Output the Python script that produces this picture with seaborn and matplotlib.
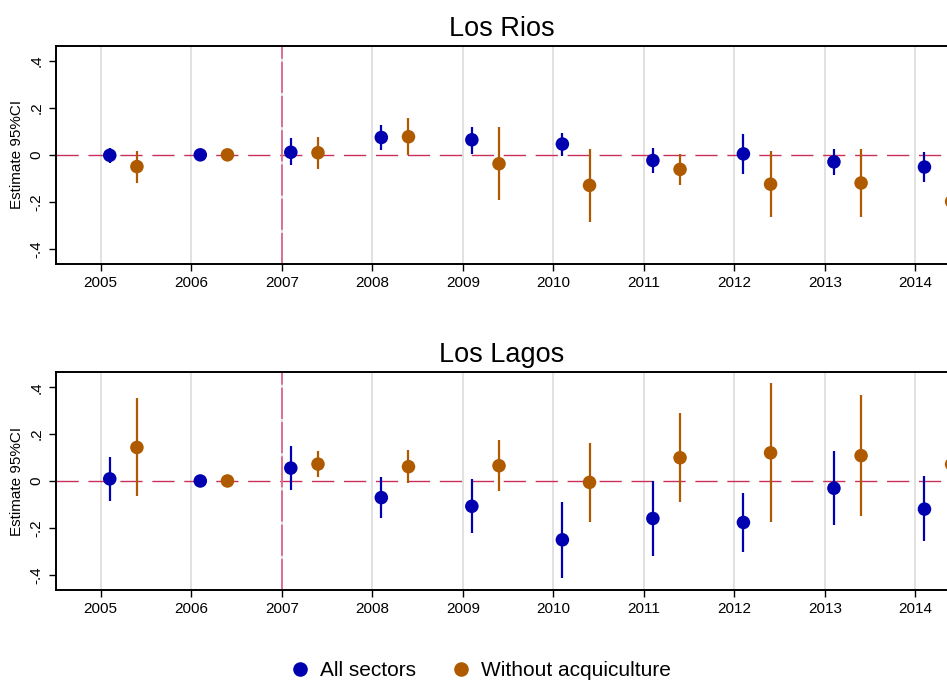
import numpy as np
import pandas as pd
import matplotlib
matplotlib.use("Agg")
import matplotlib.pyplot as plt
from matplotlib.lines import Line2D
import seaborn as sns

# Event-study estimates with 95% confidence intervals (base year 2006)
years = [2005, 2006, 2007, 2008, 2009, 2010, 2011, 2012, 2013, 2014]
series_names = ["All sectors", "Without acquiculture"]
regions = ["Los Rios", "Los Lagos"]

rios_all_est = [-0.002, 0.0, 0.011, 0.074, 0.064, 0.046, -0.024, 0.004, -0.030, -0.052]
rios_all_lo = [-0.035, np.nan, -0.045, 0.020, 0.004, -0.004, -0.078, -0.080, -0.084, -0.115]
rios_all_hi = [0.028, np.nan, 0.070, 0.125, 0.120, 0.095, 0.031, 0.088, 0.024, 0.010]

rios_noaq_est = [-0.050, 0.0, 0.009, 0.077, -0.038, -0.130, -0.062, -0.125, -0.120, -0.199]
rios_noaq_lo = [-0.118, np.nan, -0.060, -0.001, -0.194, -0.288, -0.128, -0.265, -0.265, -0.340]
rios_noaq_hi = [0.018, np.nan, 0.078, 0.155, 0.118, 0.026, 0.004, 0.016, 0.023, -0.060]

lagos_all_est = [0.009, 0.0, 0.055, -0.071, -0.108, -0.251, -0.160, -0.177, -0.031, -0.120]
lagos_all_lo = [-0.086, np.nan, -0.040, -0.160, -0.224, -0.414, -0.320, -0.305, -0.187, -0.258]
lagos_all_hi = [0.102, np.nan, 0.149, 0.017, 0.007, -0.089, 0.000, -0.051, 0.126, 0.020]

lagos_noaq_est = [0.143, 0.0, 0.072, 0.061, 0.065, -0.006, 0.099, 0.120, 0.108, 0.071]
lagos_noaq_lo = [-0.064, np.nan, 0.017, -0.007, -0.041, -0.174, -0.089, -0.174, -0.150, -0.080]
lagos_noaq_hi = [0.352, np.nan, 0.128, 0.132, 0.174, 0.160, 0.289, 0.417, 0.365, 0.220]

yticks = [-0.4, -0.2, 0.0, 0.2, 0.4]
ytick_labels = ["-.4", "-.2", "0", ".2", ".4"]
treat_year = 2007

# Styling
colors = {"All sectors": "#0000B0", "Without acquiculture": "#B05A00"}
offsets = {"All sectors": 0.1, "Without acquiculture": 0.4}

rows = []
blocks = {
    ("Los Rios", "All sectors"): (rios_all_est, rios_all_lo, rios_all_hi),
    ("Los Rios", "Without acquiculture"): (rios_noaq_est, rios_noaq_lo, rios_noaq_hi),
    ("Los Lagos", "All sectors"): (lagos_all_est, lagos_all_lo, lagos_all_hi),
    ("Los Lagos", "Without acquiculture"): (lagos_noaq_est, lagos_noaq_lo, lagos_noaq_hi),
}
for (reg, ser), (est, lo, hi) in blocks.items():
    for y, e, l, h in zip(years, est, lo, hi):
        rows.append({"region": reg, "series": ser, "year": y,
                     "xpos": y + offsets[ser], "est": e, "lo": l, "hi": h})
df = pd.DataFrame(rows)

sns.set_style("white")
plt.rcParams["font.family"] = ["Liberation Sans", "DejaVu Sans"]
plt.rcParams.update({"text.color": "black", "axes.labelcolor": "black",
                     "xtick.color": "black", "ytick.color": "black"})

fig = plt.figure(figsize=(9.47, 6.83), dpi=100)
ax_top = fig.add_axes([56 / 947, 0.6135, 892 / 947, 0.3196])
ax_bot = fig.add_axes([56 / 947, 0.1362, 892 / 947, 0.3192])

for ax, reg in zip([ax_top, ax_bot], regions):
    sub = df[df["region"] == reg]
    ax.set_xlim(2004.506, 2014.36)
    ax.set_ylim(-0.465, 0.465)

    for yr in years:
        ax.axvline(yr, color="#DCDCDC", lw=1.2, zorder=0)
    ax.axhline(0, color="#C8305A", lw=1.0, dashes=(16, 7), zorder=1)
    ax.axvline(treat_year, color="#D9708F", lw=1.4, dashes=(16, 1.6), zorder=1)

    for ser in series_names:
        s = sub[(sub["series"] == ser) & sub["lo"].notna()]
        ax.vlines(s["xpos"], s["lo"], s["hi"], color=colors[ser], lw=1.6, zorder=2)

    sns.scatterplot(data=sub, x="xpos", y="est", hue="series", palette=colors,
                    hue_order=series_names, s=95, edgecolor="none", legend=False,
                    ax=ax, zorder=3)

    ax.set_xticks(years)
    ax.set_xticklabels([str(y) for y in years], fontsize=11)
    ax.set_yticks(yticks)
    ax.set_yticklabels(ytick_labels, fontsize=11, rotation=90, va="center")
    ax.tick_params(axis="both", direction="out", length=5, width=1.0, color="black",
                   bottom=True, left=True, pad=4)
    ax.set_xlabel("")
    ax.set_ylabel("Estimate 95%CI", fontsize=11, labelpad=4)
    ax.set_title(reg, fontsize=19.5, pad=7)
    for side in ["left", "bottom", "top"]:
        ax.spines[side].set_color("black")
        ax.spines[side].set_linewidth(1.4)
    ax.spines["right"].set_visible(False)

handles = [Line2D([0], [0], marker="o", linestyle="none", markersize=10.5,
                  markerfacecolor=colors[s], markeredgecolor="none") for s in series_names]
fig.legend(handles, series_names, loc="center", bbox_to_anchor=(0.507, 0.018),
           ncol=2, frameon=False, fontsize=15, handlelength=1.0,
           handletextpad=0.45, columnspacing=1.65, borderpad=0.1)

fig.savefig("out.png", dpi=100)
